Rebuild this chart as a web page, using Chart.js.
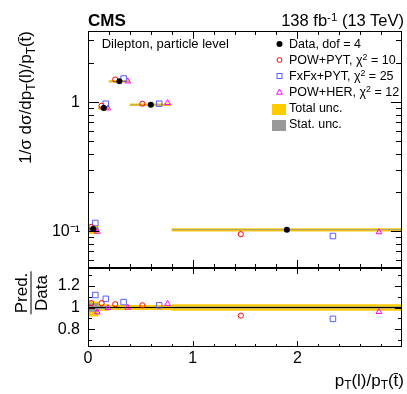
<!DOCTYPE html>
<html>
<head>
<meta charset="utf-8">
<script src="https://cdn.jsdelivr.net/npm/chart.js@4.4.1/dist/chart.umd.min.js"></script>
<style>
  body { margin:0; background:#fff; font-family:'Liberation Sans', Arial, sans-serif; }
  #wrap { position:relative; width:407px; height:394px; overflow:hidden; }
  canvas { position:absolute; left:0; top:0; }
  .t { position:absolute; white-space:nowrap; color:#000; line-height:1; }
  .sub { font-size:0.7em; position:relative; top:0.3em; }
  .sup { font-size:0.7em; position:relative; top:-0.45em; }
  #legenda { position:absolute; left:272px; top:36px; font-size:12.5px; }
  #legenda .row { height:16px; line-height:16px; display:flex; align-items:center; white-space:nowrap; }
  #legenda svg { width:15px; height:16px; flex:none; }
  #legenda span.txt { margin-left:2px; }
  .caixa { width:14px; height:11px; margin:2px 1px 0 0; flex:none; }
</style>
</head>
<body>
<div id="wrap">
  <canvas id="c-top" width="407" height="394"></canvas>
  <canvas id="c-ratio" width="407" height="394"></canvas>

  <div class="t" style="left:88px;top:11.6px;font-size:17px;font-weight:bold">CMS</div>
  <div class="t" style="right:3px;top:12px;font-size:16.5px">138 fb<span class="sup">-1</span> (13 TeV)</div>
  <div class="t" style="left:101.7px;top:36.5px;font-size:13px">Dilepton, particle level</div>

  <div id="legenda">
    <div class="row"><svg><circle cx="7.5" cy="8" r="3" fill="#000"/></svg><span class="txt">Data, dof = 4</span></div>
    <div class="row"><svg><circle cx="7.5" cy="8" r="2.4" fill="none" stroke="#ff0000" stroke-width="1"/></svg><span class="txt">POW+PYT, χ<span class="sup">2</span> = 10</span></div>
    <div class="row"><svg><rect x="5" y="5.5" width="5" height="5" fill="none" stroke="#5b5bff" stroke-width="1"/></svg><span class="txt">FxFx+PYT, χ<span class="sup">2</span> = 25</span></div>
    <div class="row"><svg><polygon points="7.5,5 10.3,10.2 4.7,10.2" fill="none" stroke="#ff00ff" stroke-width="1"/></svg><span class="txt">POW+HER, χ<span class="sup">2</span> = 12</span></div>
    <div class="row"><div class="caixa" style="background:#ffcc00"></div><span class="txt">Total unc.</span></div>
    <div class="row"><div class="caixa" style="background:#999999"></div><span class="txt">Stat. unc.</span></div>
  </div>

  <!-- títulos dos eixos -->
  <div class="t" style="left:16.6px;top:271px;width:240px;text-align:right;font-size:17px;transform:rotate(-90deg);transform-origin:left top">
    1/σ dσ/dp<span class="sub">T</span>(l)/p<span class="sub">T</span>(t̄)
  </div>
  <div class="t" style="left:31px;top:292.5px;font-size:17px;transform:translate(-50%,-50%) rotate(-90deg)">
    <div style="display:flex;flex-direction:column;align-items:center">
      <div style="border-bottom:1px solid #000;padding:0 1px 1px">Pred.</div>
      <div style="padding-top:1px">Data</div>
    </div>
  </div>
  <div class="t" style="right:3px;top:371.6px;font-size:17px">p<span class="sub">T</span>(l)/p<span class="sub">T</span>(t̄)</div>
</div>

<script>
// valores
const binEdges    = [0, 0.1, 0.2, 0.4, 0.8, 3.0];
const dataVals    = [0.104, 0.900, 1.450, 0.953, 0.1027];
const powPytVals  = [0.1082, 0.936, 1.494, 0.972, 0.0950];
const fxfxPytVals = [0.1160, 0.972, 1.523, 0.972, 0.0919];
const powHerVals  = [0.0995, 0.896, 1.450, 0.986, 0.0986];
// incertezas relativas
const totUncUp    = [0.055, 0.030, 0.022, 0.022, 0.030];
const totUncDown  = [0.083, 0.030, 0.022, 0.022, 0.030];
const statUnc     = [0.040, 0.015, 0.006, 0.006, 0.010];
// ticks
const xTicksMaior = [0, 1, 2];
const xTicksMenor = [0.2, 0.4, 0.6, 0.8, 1.2, 1.4, 1.6, 1.8, 2.2, 2.4, 2.6, 2.8];
const yTopMaior   = [0.1, 1];
const yTopMenor   = [0.06, 0.07, 0.08, 0.09, 0.2, 0.3, 0.4, 0.5, 0.6, 0.7, 0.8, 0.9, 2, 3];
const yRatMaior   = [0.8, 1, 1.2];
const yRatMenor   = [0.7, 0.9, 1.1, 1.3];

const COR_PYT = '#ff0000', COR_FXFX = '#5b5bff', COR_HER = '#ff00ff';
const AMARELO = '#ffcc00', CINZA = '#999999';
const FONTE = "'Liberation Sans', Arial, sans-serif";

Chart.defaults.font.family = FONTE;

const centros  = binEdges.slice(0, -1).map((e, i) => (e + binEdges[i + 1]) / 2);
const larguras = binEdges.slice(0, -1).map((e, i) => binEdges[i + 1] - e);

function pontos(vals, desloc) {
  return vals.map((v, i) => ({ x: centros[i] + desloc * larguras[i], y: v }));
}
function degraus(vals) {
  const pts = vals.map((v, i) => ({ x: binEdges[i], y: v }));
  pts.push({ x: binEdges[binEdges.length - 1], y: vals[vals.length - 1] });
  return pts;
}

const ratioPyt  = powPytVals.map((v, i) => v / dataVals[i]);
const ratioFxFx = fxfxPytVals.map((v, i) => v / dataVals[i]);
const ratioHer  = powHerVals.map((v, i) => v / dataVals[i]);

function banda(base, up, dn, cor, ordem) {
  return [
    { type:'line', data:degraus(base.map((b, i) => b * (1 + up[i]))), stepped:true, borderWidth:0, pointRadius:0, fill:false, order:ordem },
    { type:'line', data:degraus(base.map((b, i) => b * (1 - dn[i]))), stepped:true, borderWidth:0, pointRadius:0, fill:'-1', backgroundColor:cor, order:ordem }
  ];
}

function marcadores(dPyt, dFxFx, dHer, dData) {
  const lista = [
    { data:pontos(dPyt, -0.2),  pointStyle:'circle',   pointRadius:2.6, borderColor:COR_PYT,  backgroundColor:'transparent', borderWidth:1, order:3 },
    { data:pontos(dFxFx, 0.2),  pointStyle:'rect',     pointRadius:3.9, borderColor:COR_FXFX, backgroundColor:'transparent', borderWidth:1, order:3 },
    { data:pontos(dHer, 0.4),   pointStyle:'triangle', pointRadius:3.3, borderColor:COR_HER,  backgroundColor:'transparent', borderWidth:1, order:3 }
  ];
  if (dData) lista.push({ data:pontos(dData, 0), pointStyle:'circle', pointRadius:3, borderColor:'#000', backgroundColor:'#000', borderWidth:0, order:1 });
  return lista;
}

// moldura e ticks para dentro, estilo ROOT
const molduraPlugin = {
  id: 'moldura',
  afterDraw(chart, args, o) {
    const { ctx, chartArea: a } = chart;
    const sx = chart.scales.x, sy = chart.scales.y;
    ctx.save();
    ctx.strokeStyle = '#000';
    ctx.lineWidth = 1;
    ctx.beginPath();
    const seg = (x1, y1, x2, y2) => { ctx.moveTo(x1, y1); ctx.lineTo(x2, y2); };
    const tx = (lista, len) => lista.forEach(v => {
      const p = Math.round(sx.getPixelForValue(v)) + 0.5;
      seg(p, a.top, p, a.top + len); seg(p, a.bottom, p, a.bottom - len);
    });
    const ty = (lista, len) => lista.forEach(v => {
      const p = Math.round(sy.getPixelForValue(v)) + 0.5;
      seg(a.left, p, a.left + len, p); seg(a.right, p, a.right - len, p);
    });
    tx(o.xMaior, o.lxMaior); tx(o.xMenor, o.lxMenor);
    ty(o.yMaior, o.lyMaior); ty(o.yMenor, o.lyMenor);
    ctx.stroke();
    ctx.strokeRect(Math.round(a.left) + 0.5, Math.round(a.top) + 0.5, Math.round(a.right - a.left) - 1, Math.round(a.bottom - a.top) - 1);
    ctx.restore();
  }
};

const fonteTicks = { family: FONTE, size: 16 };

// ---- painel de cima (log) ----
new Chart(document.getElementById('c-top'), {
  type: 'scatter',
  data: {
    datasets: [
      ...banda(dataVals, totUncUp, totUncDown, AMARELO, 10),
      ...banda(dataVals, statUnc, statUnc, CINZA, 9),
      ...marcadores(powPytVals, fxfxPytVals, powHerVals, dataVals)
    ]
  },
  options: {
    responsive: false, animation: false, devicePixelRatio: 1,
    layout: { padding: { top: 31, right: 3, bottom: 126, left: 0 } },
    plugins: {
      legend: { display: false }, tooltip: { enabled: false },
      moldura: { xMaior: xTicksMaior, xMenor: xTicksMenor, lxMaior: 8, lxMenor: 4,
                 yMaior: yTopMaior, yMenor: yTopMenor, lyMaior: 11, lyMenor: 6 }
    },
    scales: {
      x: { type: 'linear', min: 0, max: 3, display: false },
      y: {
        type: 'logarithmic', min: 0.052, max: 3.55,
        grid: { display: false, drawTicks: false }, border: { display: false },
        afterFit: s => { s.width = 88; },
        afterBuildTicks: s => { s.ticks = yTopMaior.map(v => ({ value: v })); },
        ticks: { padding: 8, color: '#000', font: fonteTicks, callback: v => (v === 1 ? '1' : '10⁻¹') }
      }
    }
  },
  plugins: [molduraPlugin]
});

// ---- painel de razão ----
new Chart(document.getElementById('c-ratio'), {
  type: 'scatter',
  data: {
    datasets: [
      ...banda(dataVals.map(() => 1), totUncUp, totUncDown, AMARELO, 10),
      ...banda(dataVals.map(() => 1), statUnc, statUnc, CINZA, 9),
      { type:'line', data:[{ x:0, y:1 }, { x:3, y:1 }], borderColor:'#000', borderWidth:1, pointRadius:0, fill:false, order:5 },
      ...marcadores(ratioPyt, ratioFxFx, ratioHer, null)
    ]
  },
  options: {
    responsive: false, animation: false, devicePixelRatio: 1,
    layout: { padding: { top: 268, right: 3, bottom: 0, left: 0 } },
    plugins: {
      legend: { display: false }, tooltip: { enabled: false },
      moldura: { xMaior: xTicksMaior, xMenor: xTicksMenor, lxMaior: 6, lxMenor: 3,
                 yMaior: yRatMaior, yMenor: yRatMenor, lyMaior: 7, lyMenor: 4 }
    },
    scales: {
      x: {
        type: 'linear', min: 0, max: 3,
        grid: { display: false, drawTicks: false }, border: { display: false },
        afterFit: s => { s.height = 47; },
        afterBuildTicks: s => { s.ticks = xTicksMaior.map(v => ({ value: v })); },
        ticks: { padding: 2, color: '#000', font: fonteTicks, maxRotation: 0, autoSkip: false, callback: v => String(v) }
      },
      y: {
        type: 'linear', min: 0.635, max: 1.365,
        grid: { display: false, drawTicks: false }, border: { display: false },
        afterFit: s => { s.width = 88; },
        afterBuildTicks: s => { s.ticks = yRatMaior.map(v => ({ value: v })); },
        ticks: { padding: 8, color: '#000', font: fonteTicks, callback: v => String(v) }
      }
    }
  },
  plugins: [molduraPlugin]
});
</script>
</body>
</html>
